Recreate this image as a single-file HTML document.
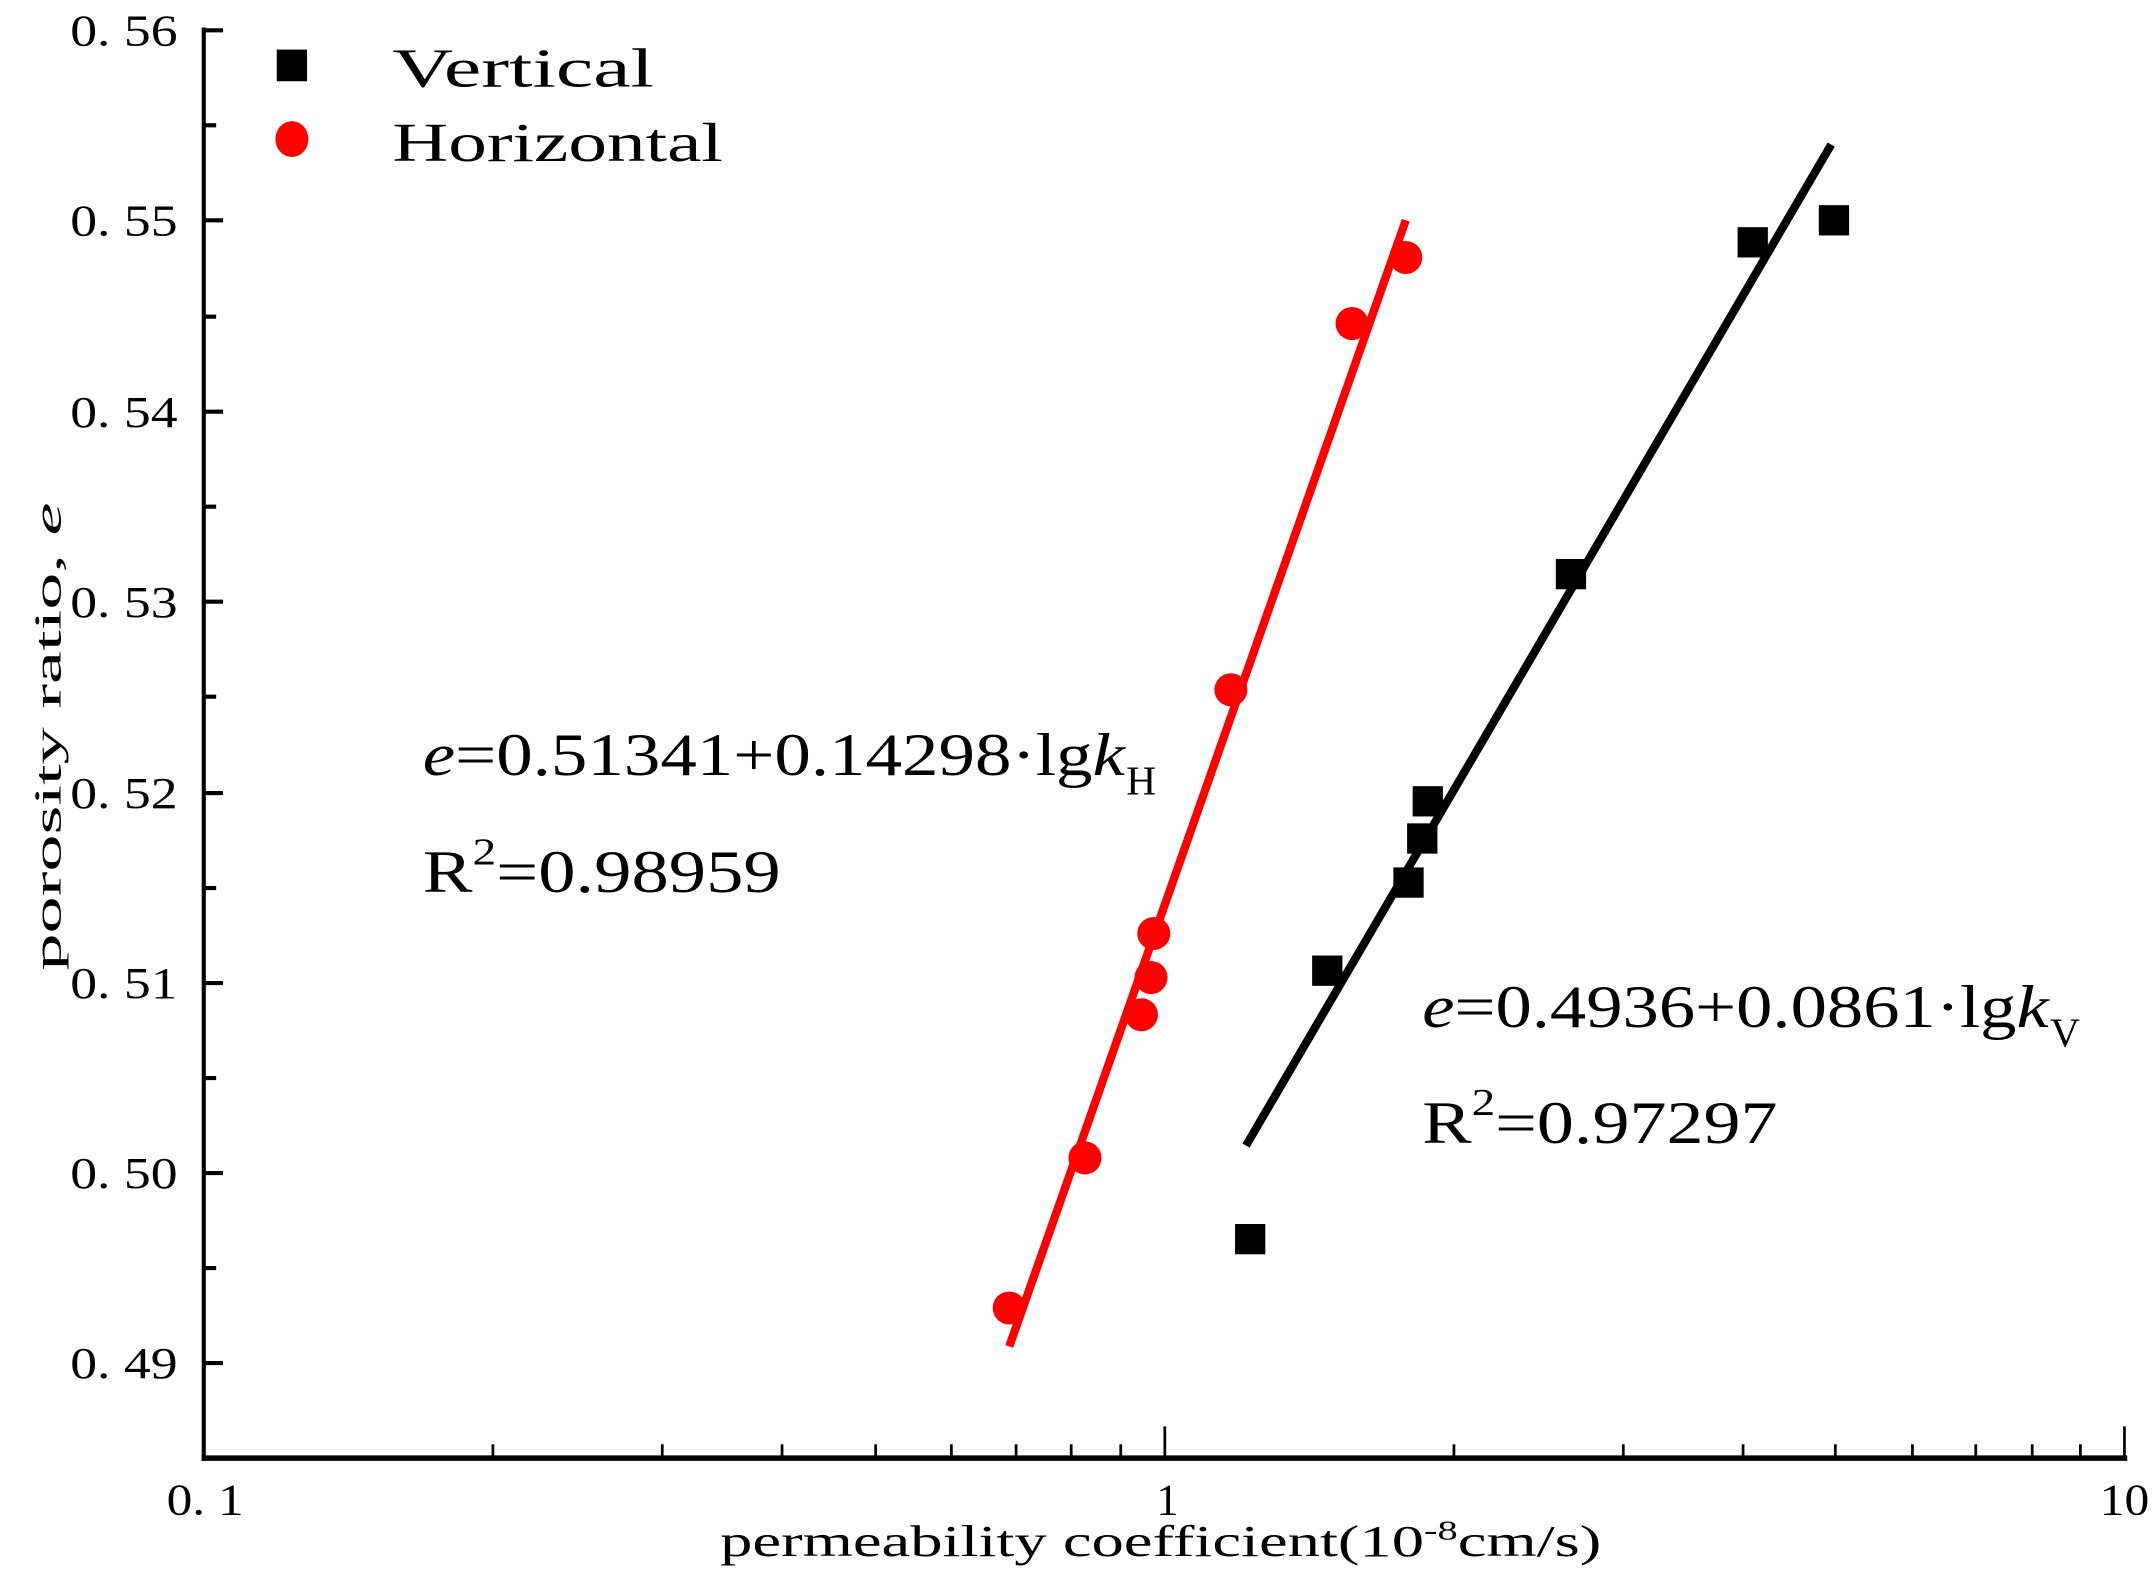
<!DOCTYPE html>
<html><head><meta charset="utf-8"><style>html,body{margin:0;padding:0;background:#fff}svg{display:block}</style></head>
<body>
<svg width="2152" height="1574" viewBox="0 0 1563 1143.2" xmlns="http://www.w3.org/2000/svg">
<rect x="0" y="0" width="1563" height="1143.2" fill="#fff"/>
<g stroke="#000" fill="none">
<line x1="148" y1="20" x2="148" y2="1061" stroke-width="3"/>
<line x1="146.5" y1="1059" x2="1545" y2="1059" stroke-width="4"/>
<!-- y major ticks -->
<g stroke-width="3">
<line x1="148" y1="22" x2="162" y2="22"/><line x1="148" y1="160" x2="162" y2="160"/>
<line x1="148" y1="299" x2="162" y2="299"/><line x1="148" y1="437" x2="162" y2="437"/>
<line x1="148" y1="576" x2="162" y2="576"/><line x1="148" y1="714" x2="162" y2="714"/>
<line x1="148" y1="852" x2="162" y2="852"/><line x1="148" y1="990" x2="162" y2="990"/>
</g>
<g stroke-width="3">
<line x1="148" y1="91" x2="157" y2="91"/><line x1="148" y1="230" x2="157" y2="230"/>
<line x1="148" y1="368" x2="157" y2="368"/><line x1="148" y1="506" x2="157" y2="506"/>
<line x1="148" y1="645" x2="157" y2="645"/><line x1="148" y1="783" x2="157" y2="783"/>
<line x1="148" y1="921" x2="157" y2="921"/>
</g>
<!-- x ticks -->
<g stroke-width="2">
<line x1="846" y1="1059" x2="846" y2="1036"/><line x1="1543" y1="1059" x2="1543" y2="1036"/>
<line x1="358" y1="1059" x2="358" y2="1049"/><line x1="481" y1="1059" x2="481" y2="1049"/>
<line x1="568" y1="1059" x2="568" y2="1049"/><line x1="636" y1="1059" x2="636" y2="1049"/>
<line x1="691" y1="1059" x2="691" y2="1049"/><line x1="738" y1="1059" x2="738" y2="1049"/>
<line x1="778" y1="1059" x2="778" y2="1049"/><line x1="814" y1="1059" x2="814" y2="1049"/>
<line x1="1056" y1="1059" x2="1056" y2="1049"/><line x1="1179" y1="1059" x2="1179" y2="1049"/>
<line x1="1266" y1="1059" x2="1266" y2="1049"/><line x1="1333" y1="1059" x2="1333" y2="1049"/>
<line x1="1389" y1="1059" x2="1389" y2="1049"/><line x1="1435" y1="1059" x2="1435" y2="1049"/>
<line x1="1476" y1="1059" x2="1476" y2="1049"/><line x1="1511" y1="1059" x2="1511" y2="1049"/>
</g>
</g>
<g font-family="'Liberation Serif',serif" font-size="32" fill="#000" text-anchor="end">
<text x="129" y="33" textLength="78" lengthAdjust="spacingAndGlyphs">0. 56</text>
<text x="129" y="171" textLength="78" lengthAdjust="spacingAndGlyphs">0. 55</text>
<text x="129" y="310" textLength="78" lengthAdjust="spacingAndGlyphs">0. 54</text>
<text x="129" y="448" textLength="78" lengthAdjust="spacingAndGlyphs">0. 53</text>
<text x="129" y="587" textLength="78" lengthAdjust="spacingAndGlyphs">0. 52</text>
<text x="129" y="725" textLength="78" lengthAdjust="spacingAndGlyphs">0. 51</text>
<text x="129" y="863" textLength="78" lengthAdjust="spacingAndGlyphs">0. 50</text>
<text x="129" y="1001" textLength="78" lengthAdjust="spacingAndGlyphs">0. 49</text>
</g>
<g font-family="'Liberation Serif',serif" font-size="32" fill="#000">
<text x="121" y="1100" textLength="56" lengthAdjust="spacingAndGlyphs">0. 1</text>
<text x="840" y="1100">1</text>
<text x="1525" y="1100" textLength="36" lengthAdjust="spacingAndGlyphs">10</text>
<text x="523" y="1130" textLength="640" lengthAdjust="spacingAndGlyphs">permeability coefficient(10<tspan dy="-12" font-size="20">-8</tspan><tspan dy="12">cm/s)</tspan></text>
<text transform="translate(44,535) rotate(-90)" text-anchor="middle" font-size="28" textLength="340" lengthAdjust="spacingAndGlyphs">porosity ratio, <tspan font-style="italic">e</tspan></text>
<text x="285" y="63" font-size="40" textLength="190" lengthAdjust="spacingAndGlyphs">Vertical</text>
<text x="285" y="117" font-size="40" textLength="240" lengthAdjust="spacingAndGlyphs">Horizontal</text>
</g>
<rect x="201" y="36" width="22" height="23" fill="#000"/>
<ellipse cx="212" cy="101" rx="12" ry="13" fill="#f00"/>
<!-- equations -->
<g font-family="'Liberation Serif',serif" font-size="44" fill="#000">
<text x="307" y="563" textLength="510" lengthAdjust="spacingAndGlyphs"><tspan font-style="italic">e</tspan>=0.51341+0.14298·lg<tspan font-style="italic">k</tspan></text>
<text x="818" y="577" font-size="30">H</text>
<text x="307" y="648" textLength="260" lengthAdjust="spacingAndGlyphs">R<tspan dy="-20" font-size="28">2</tspan><tspan dy="20">=0.98959</tspan></text>
<text x="1033" y="746" textLength="455" lengthAdjust="spacingAndGlyphs"><tspan font-style="italic">e</tspan>=0.4936+0.0861·lg<tspan font-style="italic">k</tspan></text>
<text x="1489" y="760" font-size="30">V</text>
<text x="1033" y="830" textLength="258" lengthAdjust="spacingAndGlyphs">R<tspan dy="-20" font-size="28">2</tspan><tspan dy="20">=0.97297</tspan></text>
</g>
<!-- fit lines -->
<line x1="733" y1="978" x2="1021" y2="160" stroke="#f00" stroke-width="6"/>
<line x1="905" y1="832" x2="1330" y2="105" stroke="#000" stroke-width="6"/>
<!-- red points -->
<g fill="#f00">
<circle cx="733" cy="950" r="12"/><circle cx="788" cy="841" r="12"/>
<circle cx="829" cy="737" r="12"/><circle cx="836" cy="710" r="12"/>
<circle cx="838" cy="678" r="12"/><circle cx="894" cy="501" r="12"/>
<circle cx="982" cy="235" r="12"/><circle cx="1021" cy="187" r="12"/>
</g>
<g fill="#000">
<rect x="897" y="889" width="22" height="22"/><rect x="953" y="694" width="22" height="22"/>
<rect x="1012" y="630" width="22" height="22"/><rect x="1022" y="598" width="22" height="22"/>
<rect x="1026" y="571" width="22" height="22"/><rect x="1130" y="406" width="22" height="22"/>
<rect x="1262" y="165" width="22" height="22"/><rect x="1321" y="149" width="22" height="22"/>
</g>
</svg>
</body></html>
